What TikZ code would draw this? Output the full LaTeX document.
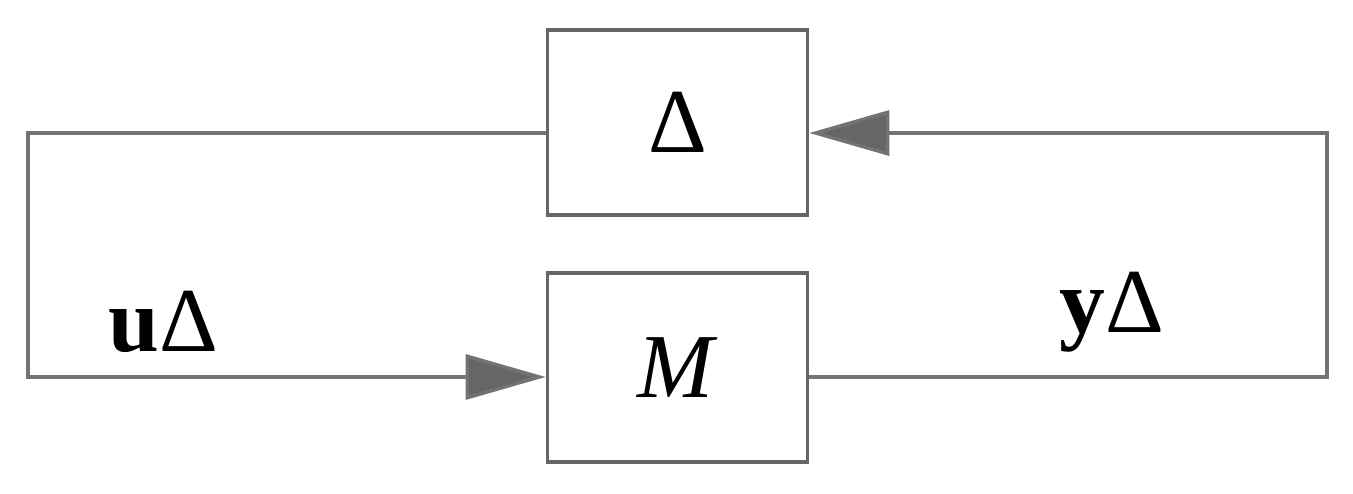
\documentclass[tikz,border=0pt]{standalone}
\usepackage{fontspec}
\setmainfont{Liberation Serif}
\usetikzlibrary{arrows.meta}
\begin{document}
\begin{tikzpicture}[x=0.01cm,y=-0.01cm,
  blk/.style={draw=black!60,line width=1pt,minimum width=2.6cm,inner sep=0},
  wire/.style={draw=black!55,line width=1pt},
  arr/.style={-{Triangle[length=0.8cm,width=0.45cm,fill=black!60]}},
  lab/.style={font=\fontsize{26}{30}\selectfont}]
\useasboundingbox (0,0) rectangle (1353,494);
\node[blk,minimum height=1.85cm,lab] (D) at (677.5,122.5) {Δ};
\node[blk,minimum height=1.89cm,lab] (M) at (677.5,367.5) {\textit{M}};
\coordinate (tl) at (28,133);
\coordinate (bl) at (28,377);
\coordinate (br) at (1327,377);
\coordinate (tr) at (1327,133);
\draw[wire,arr] (D.west |- tl) -- (tl) -- (bl) -- (M.west |- bl);
\draw[wire,arr] (M.east |- br) -- (br) -- (tr) -- (D.east |- tr);
\node[lab] (u) at (163,322) {\textbf{u}Δ};
\node[lab] (y) at (1112,312) {\textbf{y}Δ};
\end{tikzpicture}
\end{document}
